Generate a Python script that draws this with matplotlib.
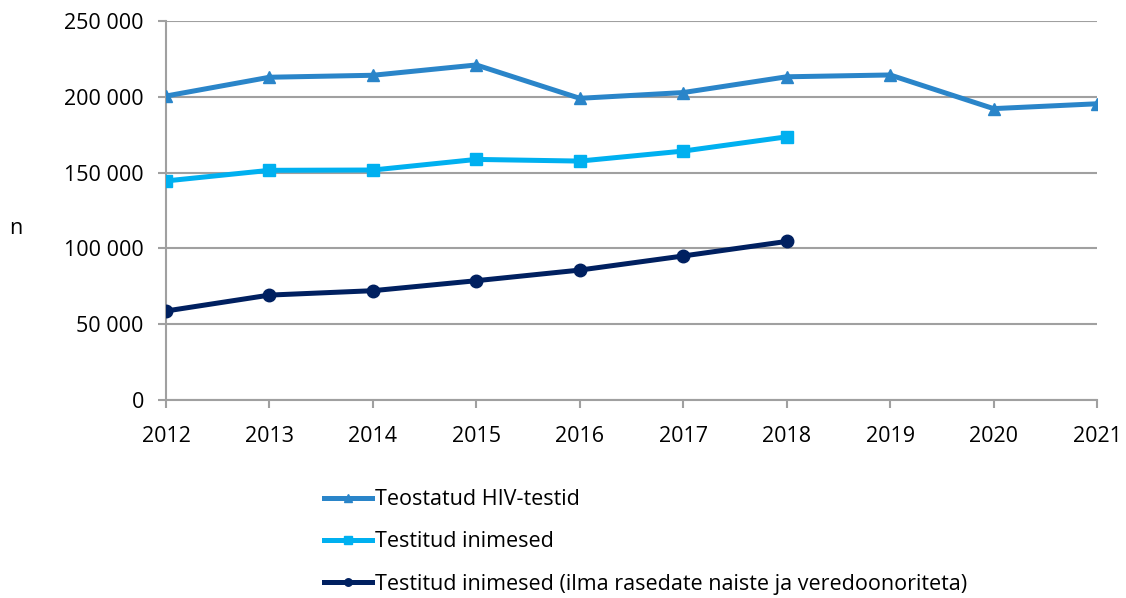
import matplotlib
matplotlib.use("Agg")
import matplotlib.pyplot as plt
from matplotlib.ticker import FuncFormatter

years = [2012, 2013, 2014, 2015, 2016, 2017, 2018, 2019, 2020, 2021]
hiv_tests = [200500, 212900, 214200, 221000, 199000, 202800, 213200, 214400, 192200, 195400]
tested_years = [2012, 2013, 2014, 2015, 2016, 2017, 2018]
tested_people = [144500, 151500, 151700, 158700, 157600, 164200, 173600]
tested_excl = [58700, 69200, 72100, 78700, 85700, 95000, 104600]

labels = ["Teostatud HIV-testid", "Testitud inimesed",
          "Testitud inimesed (ilma rasedate naiste ja veredoonoriteta)"]
yticks = [0, 50000, 100000, 150000, 200000, 250000]

plt.rcParams['font.family'] = ['Open Sans', 'DejaVu Sans']

fig = plt.figure(figsize=(11.26, 5.98), dpi=100)
ax = fig.add_axes([166/1126, 1 - 400/598, (1097-166)/1126, (400-21)/598])

l1, = ax.plot(years, hiv_tests, color='#2A85C9', lw=3.6, marker='^', ms=9, zorder=3)
l2, = ax.plot(tested_years, tested_people, color='#00B0F0', lw=3.6, marker='s', ms=9, zorder=3)
l3, = ax.plot(tested_years, tested_excl, color='#002060', lw=3.6, marker='o', ms=9, zorder=3)

ax.set_xlim(2012, 2021)
ax.set_ylim(0, 250000)
ax.set_yticks(yticks)
ax.set_xticks(years)
ax.yaxis.set_major_formatter(FuncFormatter(lambda v, p: f"{int(v):,}".replace(",", " ")))
ax.grid(axis='y', color='#a0a0a0', lw=1.5)
ax.set_axisbelow(True)
for s in ['top', 'right']:
    ax.spines[s].set_visible(False)
for s in ['left', 'bottom']:
    ax.spines[s].set_color('#a0a0a0')
    ax.spines[s].set_linewidth(1.5)
ax.tick_params(axis='both', colors='#a0a0a0', width=1.5, length=6, labelcolor='black', labelsize=15.5)
ax.tick_params(axis='y', pad=10)
ax.tick_params(axis='x', pad=13)
for lbl in ax.get_xticklabels() + ax.get_yticklabels():
    lbl.set_clip_on(False)

fig.text(16/1126, 1 - 228/598, "n", fontsize=15.5, ha='center', va='center')

leg = fig.legend([l1, l2, l3], labels, loc='upper left',
                 bbox_to_anchor=(305/1126, 1 - 470/598), frameon=False,
                 fontsize=15.5, handlelength=2.2, handletextpad=0.15,
                 labelspacing=0.98, markerscale=0.6)

fig.savefig("out.png", dpi=100)
